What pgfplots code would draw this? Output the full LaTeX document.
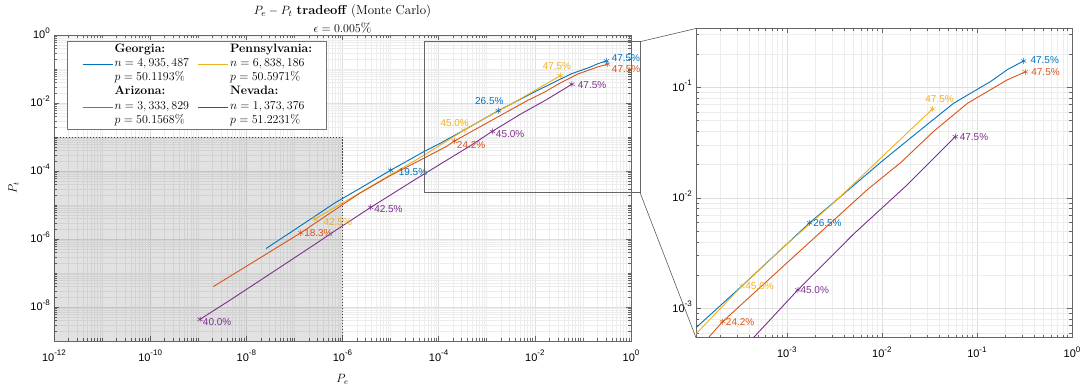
\documentclass[border=0pt]{standalone}
\usepackage{pgfplots}
\usepackage{pgfplotstable}
\pgfplotsset{compat=1.18}
\usepackage{fontspec}
\newfontfamily\hel{Liberation Sans}

\definecolor{cBlue}{rgb}{0,0.447,0.741}
\definecolor{cOrange}{rgb}{0.85,0.325,0.098}
\definecolor{cYellow}{rgb}{0.929,0.694,0.125}
\definecolor{cPurple}{rgb}{0.494,0.184,0.556}

% tick label: 10 with a raised exponent
\newcommand\tl[1]{10\raisebox{5.5pt}{\fontsize{8}{9}\selectfont #1}}

% minor tick lists (log sub-decades 2..9 plus the unlabeled decades)
\def\mainminx{1e-11}
\foreach \k in {-12,...,-1}{\foreach \m in {2,...,9}{\xdef\mainminx{\mainminx,\m e\k}}}
\xdef\mainminx{\mainminx,1e-9,1e-7,1e-5,1e-3,1e-1}
\def\mainminy{1e-7}
\foreach \k in {-9,...,-1}{\foreach \m in {2,...,9}{\xdef\mainminy{\mainminy,\m e\k}}}
\xdef\mainminy{\mainminy,1e-5,1e-3,1e-1}
\def\insminor{2e-4}
\foreach \k in {-4,...,-1}{\foreach \m in {2,...,9}{\xdef\insminor{\insminor,\m e\k}}}

% Monte Carlo tradeoff curves (P_e, P_t)
\pgfplotstableread{
x y
2.57e-8 5.25e-7
1e-7 1.86e-6
6.92e-7 1.15e-5
2.51e-6 3.31e-5
1.0e-5 1.05e-4
4.79e-5 3.63e-4
1.096e-4 6.61e-4
3.16e-4 1.514e-3
1.738e-3 5.94e-3
3.388e-3 9.66e-3
1e-2 2.138e-2
2.512e-2 4.074e-2
5.675e-2 7.161e-2
0.1 9.55e-2
0.138 0.1122
0.2089 0.1445
0.3097 0.173
}\tGA
\pgfplotstableread{
x y
2.056e-9 3.981e-8
1.585e-8 2.344e-7
1.352e-7 1.514e-6
8.913e-7 9.12e-6
2.312e-6 2.239e-5
1e-5 7.413e-5
5.012e-5 2.399e-4
1.496e-4 5.42e-4
2.118e-4 7.586e-4
1e-3 2.57e-3
3.048e-3 6.166e-3
6.95e-3 1.175e-2
1.585e-2 2.089e-2
3.491e-2 3.981e-2
7.943e-2 7.161e-2
0.207 0.1164
0.3236 0.138
}\tAZ
\pgfplotstableread{
x y
2.679e-7 3.89e-6
8.913e-7 1.047e-5
2.312e-6 2.291e-5
1e-5 7.762e-5
3.162e-5 1.995e-4
1.084e-4 5.754e-4
3.365e-4 1.585e-3
1e-3 3.802e-3
3.357e-3 9.55e-3
1e-2 2.344e-2
3.412e-2 6.368e-2
}\tPA
\pgfplotstableread{
x y
1.089e-9 4.335e-9
4.571e-9 1.585e-8
3.162e-8 9.55e-8
2.512e-7 6.607e-7
8.913e-7 2.188e-6
3.864e-6 8.511e-6
3.162e-5 5.495e-5
4.457e-4 5.42e-4
1.306e-3 1.466e-3
5.012e-3 4.677e-3
1.758e-2 1.259e-2
5.916e-2 3.573e-2
}\tNV

% shared look of both axes
\pgfplotsset{
  scale only axis,
  grid=both,
  major grid style={black!13, line width=0.5pt},
  minor grid style={black!7, line width=0.5pt},
  axis line style={black!60, line width=0.6pt},
  tick style={black!60, line width=0.5pt},
  major tick length=5pt, minor tick length=3pt,
  tick label style={font=\hel\fontsize{11}{13}\selectfont},
  xticklabel style={anchor=base, inner sep=0pt, yshift=-20pt},
  yticklabel style={anchor=base east, inner sep=0pt, xshift=-4pt, yshift=-3.95pt},
}
\tikzset{ptlabel/.style={font=\hel\fontsize{10}{12}\selectfont, inner sep=0pt}}

\begin{document}
\begin{tikzpicture}
\useasboundingbox (0pt,0pt) rectangle (1089pt,385pt);

\begin{axis}[name=main, xmode=log, ymode=log,
  at={(54pt,44pt)}, anchor=south west,
  width=577pt, height=306pt,
  xmin=1e-12, xmax=1, ymin=1e-9, ymax=1,
  xtick={1e-12,1e-10,1e-8,1e-6,1e-4,1e-2,1},
  xticklabels={\tl{-12},\tl{-10},\tl{-8},\tl{-6},\tl{-4},\tl{-2},\tl{0}},
  ytick={1e-8,1e-6,1e-4,1e-2,1},
  yticklabels={\tl{-8},\tl{-6},\tl{-4},\tl{-2},\tl{0}},
  minor xtick/.expanded=\mainminx, minor ytick/.expanded=\mainminy,
  xlabel={$P_e$},
  xlabel style={at={(axis description cs:0.5,-0.137)}, anchor=base,
    font=\fontsize{12}{14}\selectfont},
  ylabel={$P_t$},
  ylabel style={at={(axis description cs:-0.0646,0.5)}, anchor=base,
    font=\fontsize{12}{14}\selectfont},
  legend columns=2,
  legend cell align=left,
  legend image code/.code={\draw[line width=1pt] (0pt,-1pt) -- (30pt,-1pt);},
  legend style={at={(0.02305,0.9804)}, anchor=north west,
    draw=black!55, line width=0.5pt, fill=white,
    inner xsep=14.5pt, inner ysep=1.5pt,
    font=\fontsize{12.2}{14.1}\selectfont,
    column sep=1.5pt,
    /tikz/every even column/.append style={column sep=8.6pt},
    nodes={inner sep=0pt, text height=9.87pt, text depth=4.23pt}},
]
% region of interest
\addplot[draw=none, fill=black, fill opacity=0.115, forget plot]
  coordinates {(1e-12,1e-9) (1e-6,1e-9) (1e-6,1e-3) (1e-12,1e-3)} -- cycle;
\addplot[black!75, dash pattern=on 1.5pt off 1.5pt, line width=0.5pt, forget plot]
  coordinates {(1e-12,1e-3) (1e-6,1e-3) (1e-6,1e-9)};

\addplot[color=cBlue, line width=0.9pt, forget plot] table {\tGA};
\addplot[color=cYellow, line width=0.9pt, forget plot] table {\tPA};
\addplot[color=cOrange, line width=0.9pt, forget plot] table {\tAZ};
\addplot[color=cPurple, line width=0.9pt, forget plot] table {\tNV};

% legend: state name, sample size with line, vote share
\addlegendimage{empty legend}\addlegendentry{\textbf{Georgia:}}
\addlegendimage{empty legend}\addlegendentry{\textbf{Pennsylvania:}}
\addlegendimage{color=cBlue}\addlegendentry{$n=4,935,487$}
\addlegendimage{color=cYellow}\addlegendentry{$n=6,838,186$}
\addlegendimage{empty legend}\addlegendentry{$p=50.1193\%$}
\addlegendimage{empty legend}\addlegendentry{$p=50.5971\%$}
\addlegendimage{empty legend}\addlegendentry{\textbf{Arizona:}}
\addlegendimage{empty legend}\addlegendentry{\textbf{Nevada:}}
\addlegendimage{color=cOrange}\addlegendentry{$n=3,333,829$}
\addlegendimage{color=cPurple}\addlegendentry{$n=1,373,376$}
\addlegendimage{empty legend}\addlegendentry{$p=50.1568\%$}
\addlegendimage{empty legend}\addlegendentry{$p=51.2231\%$}

% labelled operating points
\addplot[cBlue, only marks, mark=asterisk, mark size=3pt, mark options={line width=0.5pt}, forget plot,
  point meta=explicit symbolic, nodes near coords,
  every node near coord/.append style={ptlabel, text=cBlue, anchor=west, xshift=8pt, yshift=-2pt}]
  coordinates {(1.0e-5,1.05e-4) [19.5\%]};
\addplot[cBlue, only marks, mark=asterisk, mark size=3pt, mark options={line width=0.5pt}, forget plot,
  point meta=explicit symbolic, nodes near coords,
  every node near coord/.append style={ptlabel, text=cBlue, anchor=center, xshift=-9pt, yshift=10pt}]
  coordinates {(1.738e-3,5.94e-3) [26.5\%]};
\addplot[cBlue, only marks, mark=asterisk, mark size=3pt, mark options={line width=0.5pt}, forget plot,
  point meta=explicit symbolic, nodes near coords,
  every node near coord/.append style={ptlabel, text=cBlue, anchor=west, xshift=5pt, yshift=2.7pt}]
  coordinates {(0.3097,0.173) [47.5\%]};
\addplot[cOrange, only marks, mark=asterisk, mark size=3pt, mark options={line width=0.5pt}, forget plot,
  point meta=explicit symbolic, nodes near coords,
  every node near coord/.append style={ptlabel, text=cOrange, anchor=west, xshift=3.3pt}]
  coordinates {(1.352e-7,1.514e-6) [18.3\%]};
\addplot[cOrange, only marks, mark=asterisk, mark size=3pt, mark options={line width=0.5pt}, forget plot,
  point meta=explicit symbolic, nodes near coords,
  every node near coord/.append style={ptlabel, text=cOrange, anchor=west, xshift=2.4pt, yshift=-3.6pt}]
  coordinates {(2.118e-4,7.586e-4) [24.2\%]};
\addplot[cOrange, only marks, mark=asterisk, mark size=3pt, mark options={line width=0.5pt}, forget plot,
  point meta=explicit symbolic, nodes near coords,
  every node near coord/.append style={ptlabel, text=cOrange, anchor=west, xshift=4.3pt, yshift=-4.4pt}]
  coordinates {(0.3236,0.138) [47.5\%]};
\addplot[cYellow, only marks, mark=asterisk, mark size=3pt, mark options={line width=0.5pt}, forget plot,
  point meta=explicit symbolic, nodes near coords,
  every node near coord/.append style={ptlabel, text=cYellow, anchor=west, xshift=8.3pt, yshift=-3.4pt}]
  coordinates {(2.679e-7,3.89e-6) [42.5\%]};
\addplot[cYellow, only marks, mark=asterisk, mark size=3pt, mark options={line width=0.5pt}, forget plot,
  point meta=explicit symbolic, nodes near coords,
  every node near coord/.append style={ptlabel, text=cYellow, anchor=center, xshift=-9.3pt, yshift=7.4pt}]
  coordinates {(3.365e-4,1.585e-3) [45.0\%]};
\addplot[cYellow, only marks, mark=asterisk, mark size=3pt, mark options={line width=0.5pt}, forget plot,
  point meta=explicit symbolic, nodes near coords,
  every node near coord/.append style={ptlabel, text=cYellow, anchor=center, xshift=-3.5pt, yshift=10pt}]
  coordinates {(3.412e-2,6.368e-2) [47.5\%]};
\addplot[cPurple, only marks, mark=asterisk, mark size=3pt, mark options={line width=0.5pt}, forget plot,
  point meta=explicit symbolic, nodes near coords,
  every node near coord/.append style={ptlabel, text=cPurple, anchor=west, xshift=2.7pt, yshift=-2.7pt}]
  coordinates {(1.089e-9,4.335e-9) [40.0\%]};
\addplot[cPurple, only marks, mark=asterisk, mark size=3pt, mark options={line width=0.5pt}, forget plot,
  point meta=explicit symbolic, nodes near coords,
  every node near coord/.append style={ptlabel, text=cPurple, anchor=west, xshift=3.3pt, yshift=-1.6pt}]
  coordinates {(3.864e-6,8.511e-6) [42.5\%]};
\addplot[cPurple, only marks, mark=asterisk, mark size=3pt, mark options={line width=0.5pt}, forget plot,
  point meta=explicit symbolic, nodes near coords,
  every node near coord/.append style={ptlabel, text=cPurple, anchor=west, xshift=3.4pt, yshift=-2.3pt}]
  coordinates {(1.306e-3,1.466e-3) [45.0\%]};
\addplot[cPurple, only marks, mark=asterisk, mark size=3pt, mark options={line width=0.5pt}, forget plot,
  point meta=explicit symbolic, nodes near coords,
  every node near coord/.append style={ptlabel, text=cPurple, anchor=west, xshift=5.7pt, yshift=-0.7pt}]
  coordinates {(5.916e-2,3.573e-2) [47.5\%]};
\end{axis}

\begin{axis}[name=inset, xmode=log, ymode=log,
  at={(696pt,47.3pt)}, anchor=south west,
  width=376pt, height=309.2pt,
  xmin=1.109e-4, xmax=1, ymin=5.42e-4, ymax=0.3404,
  xtick={1e-3,1e-2,1e-1,1},
  xticklabels={\tl{-3},\tl{-2},\tl{-1},\tl{0}},
  ytick={1e-3,1e-2,1e-1},
  yticklabels={\tl{-3},\tl{-2},\tl{-1}},
  minor xtick/.expanded=\insminor, minor ytick/.expanded=\insminor,
]
\addplot[color=cBlue, line width=0.9pt] table {\tGA};
\addplot[color=cYellow, line width=0.9pt] table {\tPA};
\addplot[color=cOrange, line width=0.9pt] table {\tAZ};
\addplot[color=cPurple, line width=0.9pt] table {\tNV};

\addplot[cBlue, only marks, mark=asterisk, mark size=3pt, mark options={line width=0.5pt}, forget plot,
  point meta=explicit symbolic, nodes near coords,
  every node near coord/.append style={ptlabel, text=cBlue, anchor=west, xshift=3.4pt}]
  coordinates {(1.738e-3,5.94e-3) [26.5\%]};
\addplot[cBlue, only marks, mark=asterisk, mark size=3pt, mark options={line width=0.5pt}, forget plot,
  point meta=explicit symbolic, nodes near coords,
  every node near coord/.append style={ptlabel, text=cBlue, anchor=west, xshift=6.7pt, yshift=1pt}]
  coordinates {(0.3097,0.173) [47.5\%]};
\addplot[cOrange, only marks, mark=asterisk, mark size=3pt, mark options={line width=0.5pt}, forget plot,
  point meta=explicit symbolic, nodes near coords,
  every node near coord/.append style={ptlabel, text=cOrange, anchor=west, xshift=3pt, yshift=-0.7pt}]
  coordinates {(2.118e-4,7.586e-4) [24.2\%]};
\addplot[cOrange, only marks, mark=asterisk, mark size=3pt, mark options={line width=0.5pt}, forget plot,
  point meta=explicit symbolic, nodes near coords,
  every node near coord/.append style={ptlabel, text=cOrange, anchor=west, xshift=5.7pt}]
  coordinates {(0.3236,0.138) [47.5\%]};
\addplot[cYellow, only marks, mark=asterisk, mark size=3pt, mark options={line width=0.5pt}, forget plot,
  point meta=explicit symbolic, nodes near coords,
  every node near coord/.append style={ptlabel, text=cYellow, anchor=west, xshift=3.3pt}]
  coordinates {(3.365e-4,1.585e-3) [45.0\%]};
\addplot[cYellow, only marks, mark=asterisk, mark size=3pt, mark options={line width=0.5pt}, forget plot,
  point meta=explicit symbolic, nodes near coords,
  every node near coord/.append style={ptlabel, text=cYellow, anchor=center, xshift=7pt, yshift=10pt}]
  coordinates {(3.412e-2,6.368e-2) [47.5\%]};
\addplot[cPurple, only marks, mark=asterisk, mark size=3pt, mark options={line width=0.5pt}, forget plot,
  point meta=explicit symbolic, nodes near coords,
  every node near coord/.append style={ptlabel, text=cPurple, anchor=west, xshift=2.5pt}]
  coordinates {(1.306e-3,1.466e-3) [45.0\%]};
\addplot[cPurple, only marks, mark=asterisk, mark size=3pt, mark options={line width=0.5pt}, forget plot,
  point meta=explicit symbolic, nodes near coords,
  every node near coord/.append style={ptlabel, text=cPurple, anchor=west, xshift=4.3pt}]
  coordinates {(5.916e-2,3.573e-2) [47.5\%]};
\end{axis}

% title
\node[font=\fontsize{13}{15}\selectfont] at (342.5pt,373.3pt)
  {$P_e - P_t$ \textbf{tradeoff} (Monte Carlo)};
\node[font=\fontsize{13}{15}\selectfont] at (342.5pt,357.5pt) {$\epsilon = 0.005\%$};

% zoom box and its connectors
\draw[black!60, line width=0.6pt] (424pt,192.5pt) rectangle (640pt,343.3pt);
\draw[black!65, line width=0.6pt] (640pt,343.3pt) -- (inset.north west);
\draw[black!65, line width=0.6pt] (640pt,192.5pt) -- (inset.south west);
\end{tikzpicture}
\end{document}
